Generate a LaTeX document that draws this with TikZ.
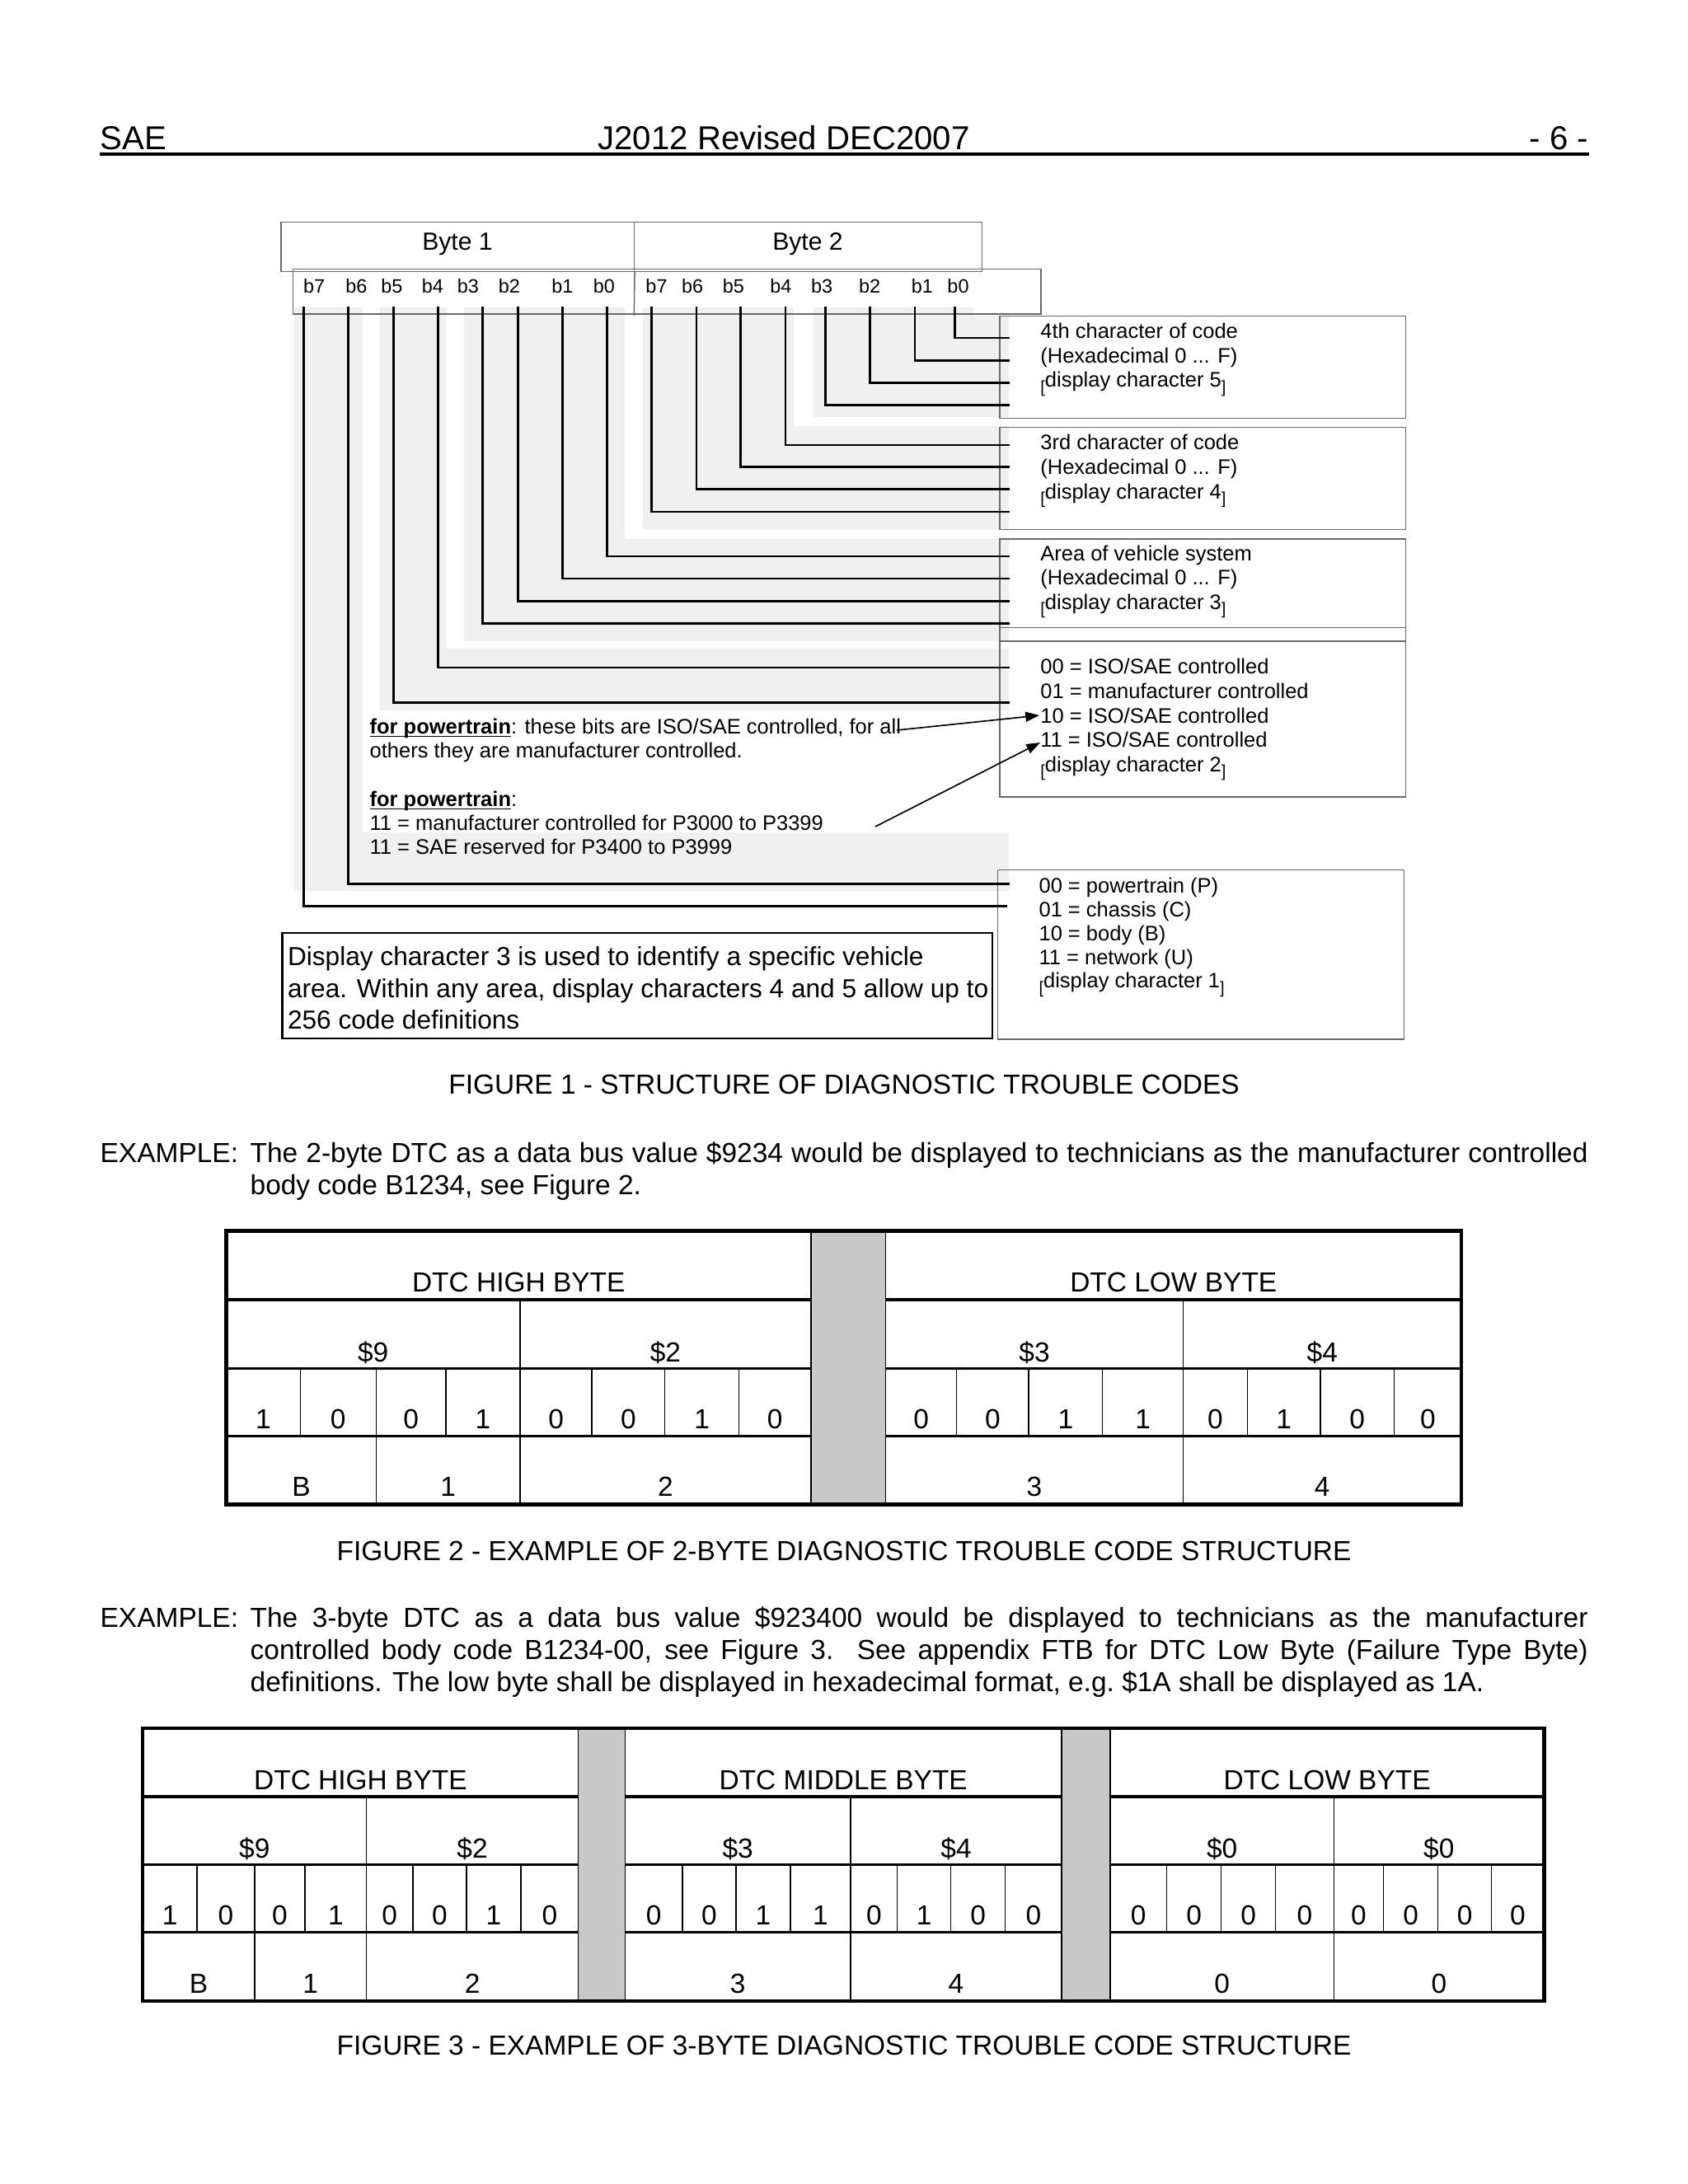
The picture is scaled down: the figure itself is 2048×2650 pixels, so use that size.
\documentclass[tikz,border=0pt]{standalone}
\usepackage{fontspec}
\setmainfont{Liberation Sans}
\usetikzlibrary{arrows.meta,fit}
\definecolor{lgray}{RGB}{240,240,240}
\definecolor{colgray}{RGB}{200,200,200}
\definecolor{boxline}{RGB}{105,105,105}
\newcommand\brk[1]{\raisebox{-1.9pt}{\fontsize{6}{6}\selectfont #1}}
\newcommand\dch[1]{\brk{[}display character #1\brk{]}}
\newsavebox\ulbox
\newcommand\ulbf[1]{\sbox\ulbox{\textbf{#1}}\rlap{\rule[-1.3pt]{\wd\ulbox}{0.5pt}}\usebox\ulbox}
\begin{document}
\begin{tikzpicture}[x=0.29883pt,y=-0.29883pt,
  txt/.style={font=\fontsize{7.62}{9}\selectfont, anchor=base west, inner sep=0},
  bitl/.style={font=\fontsize{7}{8}\selectfont, anchor=base, inner sep=0},
  conn/.style={line width=0.8pt, line join=miter},
  fbox/.style={draw=boxline, line width=0.45pt, inner sep=0},
  arr/.style={line width=0.5pt, -{Triangle[length=5pt,width=3.6pt]}},
  tcell/.style={font=\fontsize{10}{12}\selectfont, anchor=base, inner sep=0},
  body/.style={font=\fontsize{10}{12}\selectfont, anchor=base west, inner sep=0},
  hdr/.style={font=\fontsize{12}{14}\selectfont, inner sep=0},
  tl/.style={line width=0.45pt},
  rowthick/.style={line width=1.2pt},
  rowmid/.style={line width=0.9pt},
  outer/.style={line width=1.4pt}]
\useasboundingbox (0,0) rectangle (2048,2650);

% ---------------- header ----------------
\node[hdr, anchor=base west] (hsae) at (121,181.7) {SAE};
\node[hdr, anchor=base] (htitle) at (951,181.7) {J2012 Revised DEC2007};
\node[hdr, anchor=base east] (hpage) at (1928,181.7) {- 6 -};
\draw[line width=1.1pt] (121,187) -- (1928,187);

% ---------------- figure 1 shading ----------------
\fill[lgray] (357,373) -- (440,373) -- (440,1010) -- (1224,1010) -- (1224,1081) -- (357,1081) -- cycle;
\fill[lgray] (460.7,373) -- (541.7,373) -- (541.7,787) -- (1224,787) -- (1224,862) -- (460.7,862) -- cycle;
\fill[lgray] (562.7,373) -- (758.3,373) -- (758.3,654) -- (1224,654) -- (1224,778) -- (562.7,778) -- cycle;
\fill[lgray] (780,373) -- (963.3,373) -- (963.3,517) -- (1224,517) -- (1224,642.5) -- (780,642.5) -- cycle;
\fill[lgray] (986.7,373) -- (1181,373) -- (1181,383) -- (1224,383) -- (1224,506) -- (986.7,506) -- cycle;

% ---------------- byte boxes ----------------
\node[fbox, fit={(340.9,269.3)(769.3,329.3)}] (byte1) {};
\node[fbox, fit={(769.3,269.3)(1191.6,329.3)}] (byte2) {};
\node[fbox, fit={(355.4,326.7)(1263,381)}] (bitsbox) {};
\draw[draw=boxline, line width=0.45pt] (byte1.south east) -- (769.3,383);
\node[font=\fontsize{9}{10}\selectfont, anchor=base, inner sep=0] (byte1t) at (555,303.3) {Byte 1};
\node[font=\fontsize{9}{10}\selectfont, anchor=base, inner sep=0] (byte2t) at (980,303.3) {Byte 2};

% bit labels
\foreach \n/\x/\t in {1b7/381.2/b7, 1b6/432.4/b6, 1b5/475.4/b5, 1b4/524.8/b4, 1b3/567.8/b3, 1b2/617.8/b2, 1b1/682.3/b1, 1b0/732.9/b0,
  2b7/796.5/b7, 2b6/840.1/b6, 2b5/889.8/b5, 2b4/947.4/b4, 2b3/997.1/b3, 2b2/1055.2/b2, 2b1/1118.9/b1, 2b0/1162.5/b0}
  \node[bitl] (l\n) at (\x,355) {\t};

% ---------------- right boxes ----------------
\node[fbox, fit={(1213,383.7)(1705.7,507.5)}] (box1) {};
\node[fbox, fit={(1213,518.6)(1705.7,642.7)}] (box2) {};
\node[fbox, fit={(1213,653.8)(1705.7,778)}] (box3) {};
\node[fbox, fit={(1213,761.7)(1705.7,967)}] (box4) {};
\node[fbox, fit={(1210.3,1055.7)(1703.5,1261)}] (box5) {};

\node[txt] (t11) at (1261.7,410.6) {4th character of code};
\node[txt] (t12) at (1261.7,440.2) {(Hexadecimal 0 ... F)};
\node[txt] (t13) at (1261.7,469.8) {\dch{5}};
\node[txt] (t21) at (1261.7,545.8) {3rd character of code};
\node[txt] (t22) at (1261.7,575.4) {(Hexadecimal 0 ... F)};
\node[txt] (t23) at (1261.7,605) {\dch{4}};
\node[txt] (t31) at (1261.7,680.3) {Area of vehicle system};
\node[txt] (t32) at (1261.7,709.9) {(Hexadecimal 0 ... F)};
\node[txt] (t33) at (1261.7,739.5) {\dch{3}};
\node[txt] (t41) at (1261.7,817.9) {00 = ISO/SAE controlled};
\node[txt] (t42) at (1261.7,847.5) {01 = manufacturer controlled};
\node[txt] (t43) at (1261.7,877.1) {10 = ISO/SAE controlled};
\node[txt] (t44) at (1261.7,906.7) {11 = ISO/SAE controlled};
\node[txt] (t45) at (1261.7,936.3) {\dch{2}};
\node[txt] (t51) at (1259.9,1083.3) {00 = powertrain (P)};
\node[txt] (t52) at (1259.9,1112.2) {01 = chassis (C)};
\node[txt] (t53) at (1259.9,1141.1) {10 = body (B)};
\node[txt] (t54) at (1259.9,1170) {11 = network (U)};
\node[txt] (t55) at (1259.9,1198.9) {\dch{1}};

% ---------------- bit connectors ----------------
\foreach \n/\x/\y/\e in {1b7/368.8/1099.3/1221.5, 1b6/422.7/1072.3/1225, 1b5/477.2/852.7/1225, 1b4/531.2/810/1225,
  1b3/585.2/756.3/1225, 1b2/628.4/729.2/1225, 1b1/682.4/702/1225, 1b0/736.3/675/1225,
  2b7/790.6/621/1225, 2b6/845/593.8/1225, 2b5/898.6/566.8/1225, 2b4/952.9/540/1225,
  2b3/1001.5/491.3/1225, 2b2/1055.7/464.5/1225, 2b1/1109.9/437.3/1225, 2b0/1158.2/410/1225}
{
  \coordinate (s\n) at (\x,371.7);
  \coordinate (e\n) at (\e,\y);
  \draw[conn] (s\n) |- (e\n);
}

% ---------------- middle notes ----------------
\node[txt] (n1) at (448,890) {\ulbf{for powertrain}: these bits are ISO/SAE controlled, for all};
\node[txt] (n2) at (448,919.3) {others they are manufacturer controlled.};
\node[txt] (n3) at (448,978) {\ulbf{for powertrain}:};
\node[txt] (n4) at (448,1007.3) {11 = manufacturer controlled for P3000 to P3399};
\node[txt] (n5) at (448,1036.6) {11 = SAE reserved for P3400 to P3999};
\coordinate (a1s) at (1088,886);
\coordinate (a1e) at (1261,868);
\coordinate (a2s) at (1062,1003);
\coordinate (a2e) at (1262,901);
\draw[arr] (a1s) -- (a1e);
\draw[arr] (a2s) -- (a2e);

% ---------------- display box ----------------
\node[draw, line width=0.7pt, inner sep=0, fit={(342.6,1131.7)(1203.7,1260)}] (dispbox) {};
\node[font=\fontsize{9.45}{11}\selectfont, anchor=base west, inner sep=0] (d1) at (348.4,1171.7) {Display character 3 is used to identify a specific vehicle};
\node[font=\fontsize{9.45}{11}\selectfont, anchor=base west, inner sep=0] (d2) at (348.4,1210) {area. Within any area, display characters 4 and 5 allow up to};
\node[font=\fontsize{9.45}{11}\selectfont, anchor=base west, inner sep=0] (d3) at (348.4,1248.3) {256 code definitions};

\node[tcell] (cap1) at (1024,1327.7) {FIGURE 1 - STRUCTURE OF DIAGNOSTIC TROUBLE CODES};

% ---------------- example 1 ----------------
\node[body] (ex1) at (121,1410) {EXAMPLE:};
\node[body] (ex1a) at (303,1410) {\makebox[485pt][s]{The 2-byte DTC as a data bus value \$9234 would be displayed to technicians as the manufacturer controlled}};
\node[body] (ex1b) at (303,1449.3) {body code B1234, see Figure 2.};

% ---------------- table 2 ----------------
\fill[colgray] (984,1493.2) rectangle (1074.5,1825.4);
\foreach \y/\s in {1577/rowthick, 1660.7/rowmid, 1742.9/rowmid} {
  \draw[\s] (274.6,\y) -- (984,\y);
  \draw[\s] (1074.5,\y) -- (1773,\y);
}
\draw[tl] (984,1493.2) -- (984,1825.4);
\draw[tl] (1074.5,1493.2) -- (1074.5,1825.4);
\foreach \x in {364.3,456.3,541.2,630.9,718.2,806.7,896.4,1160.7,1248,1337.6,1435.5,1513.4,1601.9,1691.6}
  \draw[tl] (\x,1660.7) -- (\x,1742.9);
\foreach \x in {630.9,1435.5} \draw[tl] (\x,1577) -- (\x,1660.7);
\foreach \x in {456.3,630.9,1435.5} \draw[tl] (\x,1742.9) -- (\x,1825.4);
\draw[outer] (274.6,1493.2) rectangle (1773,1825.4);

\node[tcell] (f2h1) at (629.3,1567) {DTC HIGH BYTE};
\node[tcell] (f2h2) at (1423.8,1567) {DTC LOW BYTE};
\foreach \a/\b/\t [count=\n] in {274.6/630.9/\$9, 630.9/984/\$2, 1074.5/1435.5/\$3, 1435.5/1773/\$4}
  \node[tcell] (f2d\n) at ({(\a+\b)/2},1652) {\t};
\foreach \a/\b/\t [count=\n] in {274.6/364.3/1, 364.3/456.3/0, 456.3/541.2/0, 541.2/630.9/1, 630.9/718.2/0, 718.2/806.7/0, 806.7/896.4/1, 896.4/984/0,
  1074.5/1160.7/0, 1160.7/1248/0, 1248/1337.6/1, 1337.6/1435.5/1, 1435.5/1513.4/0, 1513.4/1601.9/1, 1601.9/1691.6/0, 1691.6/1773/0}
  \node[tcell] (f2b\n) at ({(\a+\b)/2},1733) {\t};
\foreach \a/\b/\t [count=\n] in {274.6/456.3/B, 456.3/630.9/1, 630.9/984/2, 1074.5/1435.5/3, 1435.5/1773/4}
  \node[tcell] (f2c\n) at ({(\a+\b)/2},1815.5) {\t};

\node[tcell] (cap2) at (1024,1893.5) {FIGURE 2 - EXAMPLE OF 2-BYTE DIAGNOSTIC TROUBLE CODE STRUCTURE};

% ---------------- example 2 ----------------
\node[body] (ex2) at (121,1974) {EXAMPLE:};
\node[body] (ex2a) at (303,1974) {\makebox[485pt][s]{The 3-byte DTC as a data bus value \$923400 would be displayed to technicians as the manufacturer}};
\node[body] (ex2b) at (303,2013.3) {\makebox[485pt][s]{controlled body code B1234-00, see Figure 3.\ \ See appendix FTB for DTC Low Byte (Failure Type Byte)}};
\node[body] (ex2c) at (303,2052.6) {definitions. The low byte shall be displayed in hexadecimal format, e.g.\ \$1A shall be displayed as 1A.};

% ---------------- table 3 ----------------
\fill[colgray] (701.7,2097) rectangle (758.3,2427.9);
\fill[colgray] (1288,2097) rectangle (1347,2427.9);
\foreach \y/\s in {2180/rowthick, 2262.9/rowmid, 2344.6/rowmid} {
  \draw[\s] (173.1,\y) -- (701.7,\y);
  \draw[\s] (758.3,\y) -- (1288,\y);
  \draw[\s] (1347,\y) -- (1873.2,\y);
}
\foreach \x in {701.7,758.3,1288,1347} \draw[tl] (\x,2097) -- (\x,2427.9);
\foreach \x in {239.2,308.8,370.2,444.5,501.1,566,632.1,827.9,892.8,958.9,1032,1088.7,1153.6,1219.6,1415.5,1481.6,1547.6,1618.4,1678.6,1744.7,1809.5}
  \draw[tl] (\x,2262.9) -- (\x,2344.6);
\foreach \x in {444.5,1032,1618.4} \draw[tl] (\x,2180) -- (\x,2262.9);
\foreach \x in {308.8,444.5,1032,1618.4} \draw[tl] (\x,2344.6) -- (\x,2427.9);
\draw[outer] (173.1,2097) rectangle (1873.2,2427.9);

\node[tcell] (f3h1) at (437.4,2171) {DTC HIGH BYTE};
\node[tcell] (f3h2) at (1023.2,2171) {DTC MIDDLE BYTE};
\node[tcell] (f3h3) at (1610.1,2171) {DTC LOW BYTE};
\foreach \a/\b/\t [count=\n] in {173.1/444.5/\$9, 444.5/701.7/\$2, 758.3/1032/\$3, 1032/1288/\$4, 1347/1618.4/\$0, 1618.4/1873.2/\$0}
  \node[tcell] (f3d\n) at ({(\a+\b)/2},2254) {\t};
\foreach \a/\b/\t [count=\n] in {173.1/239.2/1, 239.2/308.8/0, 308.8/370.2/0, 370.2/444.5/1, 444.5/501.1/0, 501.1/566/0, 566/632.1/1, 632.1/701.7/0,
  758.3/827.9/0, 827.9/892.8/0, 892.8/958.9/1, 958.9/1032/1, 1032/1088.7/0, 1088.7/1153.6/1, 1153.6/1219.6/0, 1219.6/1288/0,
  1347/1415.5/0, 1415.5/1481.6/0, 1481.6/1547.6/0, 1547.6/1618.4/0, 1618.4/1678.6/0, 1678.6/1744.7/0, 1744.7/1809.5/0, 1809.5/1873.2/0}
  \node[tcell] (f3b\n) at ({(\a+\b)/2},2335.5) {\t};
\foreach \a/\b/\t [count=\n] in {173.1/308.8/B, 308.8/444.5/1, 444.5/701.7/2, 758.3/1032/3, 1032/1288/4, 1347/1618.4/0, 1618.4/1873.2/0}
  \node[tcell] (f3c\n) at ({(\a+\b)/2},2418.5) {\t};

\node[tcell] (cap3) at (1024,2493) {FIGURE 3 - EXAMPLE OF 3-BYTE DIAGNOSTIC TROUBLE CODE STRUCTURE};
\end{tikzpicture}
\end{document}
